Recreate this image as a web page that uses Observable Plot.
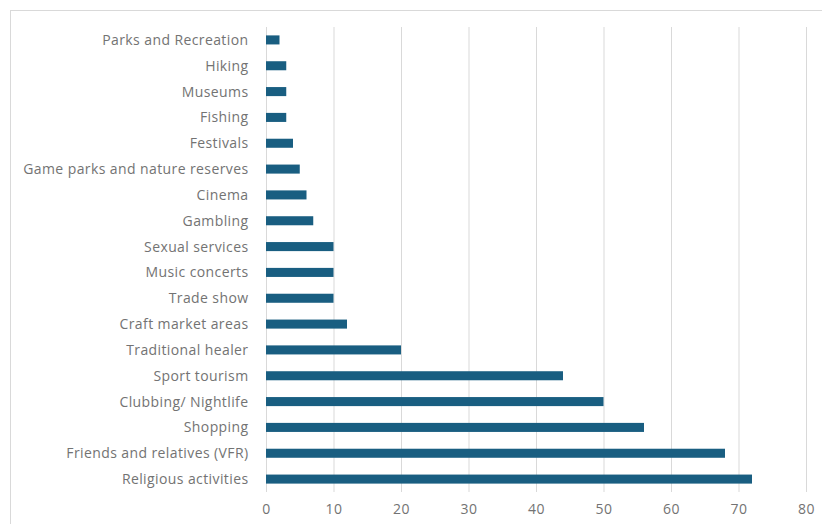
<!DOCTYPE html>
<html>
<head>
<meta charset="utf-8">
<script src="https://cdn.jsdelivr.net/npm/d3@7"></script>
<script src="https://cdn.jsdelivr.net/npm/@observablehq/plot@0.6"></script>
<style>
  html, body { margin: 0; padding: 0; background: #fff; }
  #wrap { position: relative; width: 822px; height: 524px; overflow: hidden; }
  #frame { position: absolute; left: 10px; top: 10px; width: 830px; height: 530px; border: 1px solid #d9d9d9; box-sizing: border-box; }
  #chart { position: absolute; left: 0; top: 0; }
</style>
</head>
<body>
<div id="wrap"><div id="frame"></div><div id="chart"></div></div>
<script>
const categories = [
  "Parks and Recreation", "Hiking", "Museums", "Fishing", "Festivals",
  "Game parks and nature reserves", "Cinema", "Gambling", "Sexual services",
  "Music concerts", "Trade show", "Craft market areas", "Traditional healer",
  "Sport tourism", "Clubbing/ Nightlife", "Shopping",
  "Friends and relatives (VFR)", "Religious activities"
];
const values = [2, 3, 3, 3, 4, 5, 6, 7, 10, 10, 10, 12, 20, 44, 50, 56, 68, 72];
const xTicks = [0, 10, 20, 30, 40, 50, 60, 70, 80];

const data = categories.map((c, i) => ({category: c, value: values[i]}));

const chart = Plot.plot({
  width: 822,
  height: 524,
  marginLeft: 266,
  marginRight: 16,
  marginTop: 27,
  marginBottom: 32,
  style: {fontFamily: "'Open Sans', sans-serif", fontSize: "14px", letterSpacing: "0.4px", color: "#737373", background: "transparent"},
  x: {domain: [0, 80], ticks: xTicks, tickSize: 0, tickPadding: 12, label: null},
  y: {domain: categories, tickSize: 0, tickPadding: 18, label: null, paddingInner: 0.65, paddingOuter: 0.325, round: false},
  marks: [
    Plot.gridX(xTicks, {stroke: "#d9d9d9", strokeOpacity: 1, strokeWidth: 1}),
    Plot.barX(data, {x: "value", y: "category", fill: "#195e81"})
  ]
});
document.getElementById("chart").appendChild(chart);
</script>
</body>
</html>
